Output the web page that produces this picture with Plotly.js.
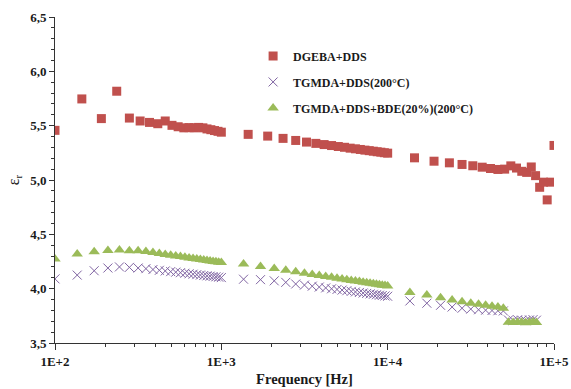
<!DOCTYPE html>
<html>
<head>
<meta charset="utf-8">
<script src="https://cdn.plot.ly/plotly-3.0.1.min.js"></script>
<style>
  html, body { margin: 0; padding: 0; background: #fff; }
  #chart { width: 571px; height: 389px; }
</style>
</head>
<body>
<div id="chart"></div>
<script>
// Relative permittivity vs frequency for three epoxy systems

// DGEBA+DDS
const freqDGEBA = [
  100, 145, 190, 235, 280, 325, 370, 415, 460, 505, 550, 595, 640, 685, 730, 775, 820, 865, 910, 955,
  1000, 1450, 1900, 2350, 2800, 3250, 3700, 4150, 4600, 5050, 5500, 5950, 6400, 6850, 7300, 7750, 8200, 8650, 9100, 9550,
  10000, 14500, 19000, 23500, 28000, 32500, 37000, 41500, 46000, 50500, 55000, 59500, 64000, 68500, 73000, 77500, 82000, 86500, 91000, 95500,
  100000
];
const epsDGEBA = [
  5.457, 5.746, 5.565, 5.817, 5.570, 5.543, 5.530, 5.518, 5.543, 5.503, 5.490, 5.480, 5.482, 5.480, 5.484, 5.480, 5.470, 5.463, 5.455, 5.448,
  5.440, 5.420, 5.404, 5.383, 5.364, 5.349, 5.337, 5.326, 5.317, 5.308, 5.301, 5.293, 5.287, 5.281, 5.275, 5.270, 5.265, 5.260, 5.256, 5.251,
  5.247, 5.204, 5.173, 5.158, 5.143, 5.131, 5.118, 5.106, 5.097, 5.100, 5.130, 5.110, 5.080, 5.070, 5.120, 5.040, 4.933, 4.980, 4.817, 4.980,
  5.318
];

// TGMDA+DDS(200°C) and TGMDA+DDS+BDE(20%)(200°C) share the same sweep
const freqTGMDA = [
  100, 136, 172, 208, 244, 280, 316, 352, 388, 424, 460, 496, 532, 568, 604, 640, 676, 712, 748, 784, 820, 856, 892, 928, 964,
  1000, 1360, 1720, 2080, 2440, 2800, 3160, 3520, 3880, 4240, 4600, 4960, 5320, 5680, 6040, 6400, 6760, 7120, 7480, 7840, 8200, 8560, 8920, 9280, 9640,
  10000, 13600, 17200, 20800, 24400, 28000, 31600, 35200, 38800, 42400, 46000, 49600,
  53200, 56800, 60400, 64000, 67600, 71200, 74800, 78400
];
const epsTGMDA = [
  4.090, 4.125, 4.165, 4.190, 4.200, 4.196, 4.190, 4.184, 4.176, 4.169, 4.163, 4.157, 4.152, 4.147, 4.142, 4.137, 4.133, 4.129, 4.125, 4.121, 4.118, 4.115, 4.112, 4.109, 4.106,
  4.102, 4.087, 4.083, 4.072, 4.058, 4.043, 4.033, 4.023, 4.015, 4.007, 3.999, 3.993, 3.987, 3.981, 3.975, 3.970, 3.965, 3.960, 3.956, 3.952, 3.948, 3.944, 3.940, 3.937, 3.933,
  3.930, 3.887, 3.866, 3.847, 3.831, 3.820, 3.812, 3.806, 3.802, 3.799, 3.797, 3.795,
  3.712, 3.708, 3.714, 3.710, 3.706, 3.712, 3.715, 3.710
];
const epsTGMDABDE = [
  4.272, 4.318, 4.340, 4.352, 4.355, 4.350, 4.348, 4.342, 4.332, 4.323, 4.315, 4.308, 4.301, 4.295, 4.289, 4.283, 4.278, 4.273, 4.268, 4.263, 4.259, 4.255, 4.251, 4.247, 4.244,
  4.240, 4.226, 4.204, 4.186, 4.170, 4.156, 4.142, 4.131, 4.121, 4.112, 4.104, 4.096, 4.089, 4.083, 4.076, 4.070, 4.065, 4.059, 4.054, 4.050, 4.045, 4.041, 4.036, 4.032, 4.029,
  4.025, 3.964, 3.942, 3.917, 3.896, 3.880, 3.866, 3.856, 3.847, 3.838, 3.831, 3.820,
  3.690, 3.688, 3.692, 3.690, 3.686, 3.691, 3.693, 3.689
];

const seriesNames = ['DGEBA+DDS', 'TGMDA+DDS(200°C)', 'TGMDA+DDS+BDE(20%)(200°C)'];
const xTickVals = [100, 1000, 10000, 100000];
const xTickText = ['1E+2', '1E+3', '1E+4', '1E+5'];

const serif = 'Liberation Serif, Times New Roman, serif';
const ink = '#1a1a1a';

const traces = [
  {
    x: freqDGEBA, y: epsDGEBA, name: seriesNames[0], legendgroup: 'a',
    type: 'scatter', mode: 'markers',
    marker: { symbol: 'square', size: 9, color: '#C0504D' }
  },
  {
    x: freqTGMDA, y: epsTGMDA, name: seriesNames[1], legendgroup: 'b',
    type: 'scatter', mode: 'markers',
    marker: { symbol: 'x-thin-open', size: 9, color: '#8064A2', line: { color: '#8064A2', width: 1 } }
  },
  {
    x: freqTGMDA, y: epsTGMDABDE, name: seriesNames[2], legendgroup: 'c',
    type: 'scatter', mode: 'markers',
    marker: { symbol: 'triangle-up', size: 10, color: '#9BBB59' }
  }
];

const layout = {
  width: 571, height: 389,
  margin: { l: 55, r: 17, t: 17, b: 46 },
  paper_bgcolor: '#fff', plot_bgcolor: '#fff',
  separators: ', ',
  showlegend: true,
  legend: {
    x: 0.397, y: 0.925, xanchor: 'left', yanchor: 'top',
    bgcolor: 'rgba(0,0,0,0)', borderwidth: 0,
    traceorder: 'grouped', tracegroupgap: 7,
    font: { family: serif, size: 12, weight: 'bold', color: ink },
    itemwidth: 30
  },
  xaxis: {
    type: 'log', range: [2, 5],
    showgrid: false, zeroline: false,
    showline: true, linecolor: '#333', linewidth: 1,
    ticks: 'outside', ticklen: 6, tickcolor: '#333',
    tickvals: xTickVals, ticktext: xTickText,
    tickfont: { family: serif, size: 13, weight: 'bold', color: ink },
    minor: { ticks: 'outside', ticklen: 3, tickcolor: '#333', dtick: 'D1', showgrid: false },
    title: { text: 'Frequency [Hz]', font: { family: serif, size: 14.5, weight: 'bold', color: ink }, standoff: 6 }
  },
  yaxis: {
    range: [3.5, 6.5], dtick: 0.5, tick0: 3.5, tickformat: '.1f',
    showgrid: false, zeroline: false,
    showline: true, linecolor: '#333', linewidth: 1,
    ticks: 'outside', ticklen: 5, tickcolor: '#333',
    tickfont: { family: serif, size: 13, weight: 'bold', color: ink },
    minor: { ticks: 'outside', ticklen: 3, tickcolor: '#333', dtick: 0.1, showgrid: false },
    title: { text: 'ε<sub>r</sub>', font: { family: serif, size: 16, color: ink }, standoff: 6 }
  }
};

Plotly.newPlot('chart', traces, layout, { displayModeBar: false, staticPlot: true });
</script>
</body>
</html>
